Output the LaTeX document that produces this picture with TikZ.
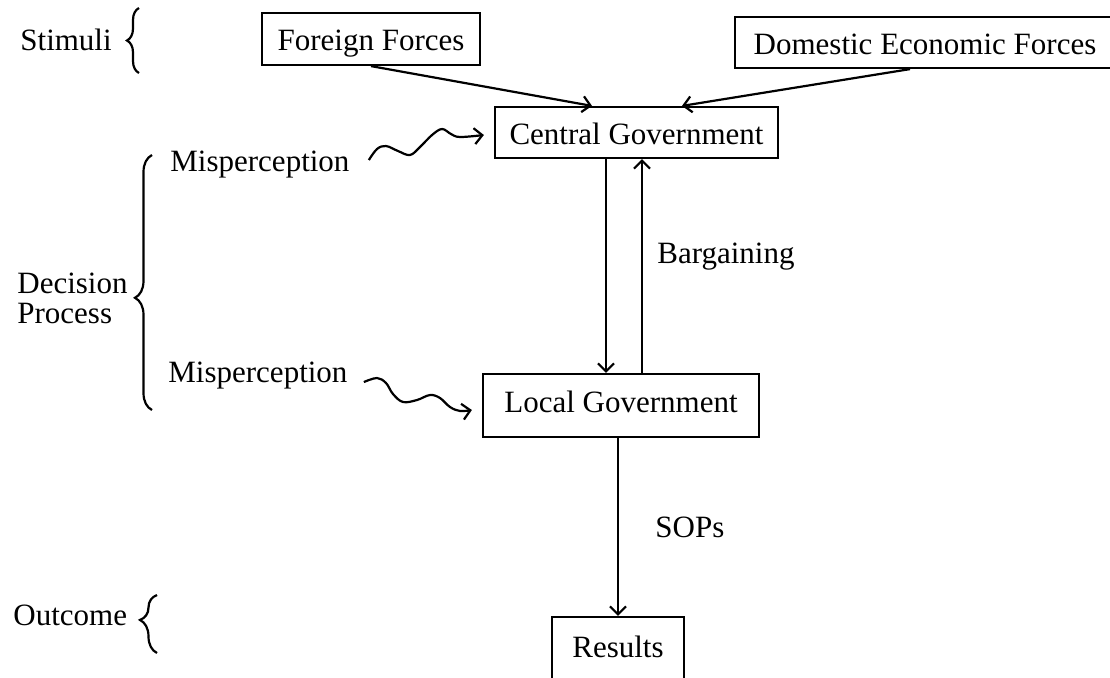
\documentclass[tikz,border=0pt]{standalone}
\usepackage{fontspec}
\setmainfont{Liberation Serif}
\usepackage{tikz}
\usetikzlibrary{arrows.meta, positioning, decorations.pathreplacing}

\begin{document}
\begin{tikzpicture}[>={Straight Barb[length=4pt,width=8pt]}, x=0.5pt, y=-0.5pt,
    font=\fontsize{15.5pt}{15pt}\selectfont,
    box/.style={draw, line width=1.1pt, inner sep=0pt, text height=11.5pt, text depth=0pt},
    lbl/.style={inner sep=0pt},
    link/.style={->, line width=1.1pt},
    wave/.style={->, line width=1.1pt},
    brc/.style={decorate, line width=1.1pt, decoration={brace, amplitude=#1}},
    brc/.default=6pt]

    % =================================================================
    % 1. KHUNG HINH
    % =================================================================
    \fill[white] (0,0) rectangle (1110,677);
    \useasboundingbox (0,0) rectangle (1110,677);
    \clip (0,0) rectangle (1110,677);

    % =================================================================
    % 2. CAC HOP
    % =================================================================
    \node[box, minimum width=109pt, minimum height=26pt] (ff) at (371,39) {Foreign Forces};
    \node[box, minimum width=190pt, minimum height=25.5pt] (de) at (925,42.5) {Domestic Economic Forces};
    \node[box, minimum width=141.5pt, minimum height=25.5pt] (cg) at (636.5,132.5) {Central Government};
    \node[box, minimum width=138pt, minimum height=31.5pt, text depth=4.75pt] (lg) at (621,405.5) {Local Government};
    \node[box, minimum width=66pt, minimum height=32pt, text depth=2.75pt] (rs) at (618,649) {Results};

    % =================================================================
    % 3. NHAN
    % =================================================================
    \node[lbl, anchor=base west] (st) at (20,50) {Stimuli};
    \node[lbl, anchor=base west] (mp1) at (170,171) {Misperception};
    \node[lbl, anchor=base west] (mp2) at (168,382) {Misperception};
    \node[lbl, anchor=west, align=left] (dp) at (17,298) {Decision\\Process};
    \node[lbl, anchor=base west] (oc) at (13,625) {Outcome};
    \node[lbl, anchor=base west] (bg) at (657,263) {Bargaining};
    \node[lbl, anchor=base west] (sp) at (655,537) {SOPs};

    % =================================================================
    % 4. NGOAC NHON
    % =================================================================
    \draw[brc] (139,73) -- (139,8);
    \draw[brc=8.5pt, decoration={aspect=0.44}] (152,410) -- (152,155);
    \draw[brc=8.5pt, decoration={aspect=0.57}] (157,653) -- (157,595);

    % =================================================================
    % 5. MUI TEN
    % =================================================================
    \draw[link] (ff.south) -- ([xshift=-22.25pt]cg.north);
    \draw[link] ([xshift=-7.5pt]de.south) -- ([xshift=22.75pt]cg.north);

    % Mui ten xuong va Bargaining
    \draw[link] ([xshift=-15.25pt]cg.south) -- ([xshift=-15.25pt]cg.south |- lg.north);
    \draw[link] ([xshift=2.75pt]cg.south |- lg.north) -- ([xshift=2.75pt]cg.south);

    % SOPs
    \draw[link] (rs.north |- lg.south) -- (rs.north);

    % Duong luon song Misperception
    \coordinate (w1s) at ([xshift=9.5pt, yshift=2pt]mp1.east);
    \coordinate (w1e) at ([xshift=-5pt, yshift=-1.25pt]cg.west);
    \draw[wave] plot[smooth, tension=0.6] coordinates {(w1s) (377,149) (386,146) (398,151)
        (410,155) (420,147) (432,135) (442,129) (451,134) (460,137) (w1e)};

    \coordinate (w2s) at ([xshift=8pt, yshift=-3.5pt]mp2.east);
    \coordinate (w2e) at ([xshift=-5pt, yshift=-2.25pt]lg.west);
    \draw[wave] plot[smooth, tension=0.6] coordinates {(w2s) (377,378) (386,383) (393,394)
        (403,402) (417,400) (430,395) (440,398) (450,407) (460,411) (w2e)};

\end{tikzpicture}
\end{document}
